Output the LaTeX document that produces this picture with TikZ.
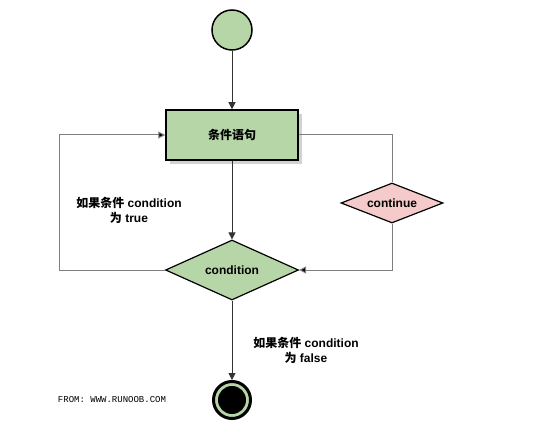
\documentclass[tikz,border=0pt]{standalone}
\usepackage{fontspec}
\setmainfont{Liberation Sans}
\setmonofont{Liberation Mono}
\newfontfamily\cjk{Noto Sans CJK SC}
\usepackage{tikz}
\usetikzlibrary{shapes.geometric,positioning,arrows.meta,shadows}
\definecolor{stepgreen}{HTML}{B7D6A8}
\definecolor{contpink}{HTML}{F5CACA}
\definecolor{loopgray}{HTML}{7F7F7F}

\begin{document}
\begin{tikzpicture}[x=1pt,y=-1pt,font=\bfseries\fontsize{12}{15}\selectfont,
startnode/.style={circle,draw=black,line width=1.5pt,fill=stepgreen,minimum size=40pt,inner sep=0pt},
stmtbox/.style={rectangle,draw=black,line width=1.5pt,fill=stepgreen,minimum width=132pt,minimum height=50pt,
  drop shadow={shadow xshift=4pt,shadow yshift=-4pt,fill=gray!50,opacity=0.7}},
condnode/.style={diamond,draw=black,line width=1.2pt,fill=stepgreen,aspect=2.2,minimum width=133pt,minimum height=60pt,inner sep=0pt},
contnode/.style={diamond,draw=black,line width=1.2pt,fill=contpink,aspect=2.5,minimum width=102pt,minimum height=40pt,inner sep=0pt},
endnode/.style={circle,draw=black,line width=3pt,fill=stepgreen,minimum size=37pt,inner sep=0pt},
flow/.style={draw=black!80,line width=1pt,-{Triangle[width=7pt,length=7pt]}},
loopline/.style={draw=loopgray,line width=1pt},
looparrow/.style={loopline,-{Triangle[width=7pt,length=7pt,fill=black]}},
note/.style={align=center,inner sep=0pt}]
\useasboundingbox (0,0) rectangle (542,444);

\node[startnode] (start) at (232,30) {};
\node[stmtbox] (stmt) at (232,135) {\cjk 条件语句};
\node[condnode] (cond) at (232,270) {condition};
\node[contnode] (cont) at (392,203) {continue};
\node[endnode] (stop) at (232,400) {};
\fill[black] (stop.center) circle (14pt);

\node[note] (ontrue) at (129,210) {{\cjk 如果条件} condition\\{\cjk 为} true};
\node[note] (onfalse) at (306,350) {{\cjk 如果条件} condition\\{\cjk 为} false};
\node[inner sep=0pt,font=\ttfamily\mdseries\fontsize{9}{10}\selectfont] (src) at (112,400) {FROM: WWW.RUNOOB.COM};

% main flow
\draw[flow] (start) -- (stmt);
\draw[flow] (stmt) -- (cond);
\draw[flow] (cond) -- (stop);

% loops
\draw[looparrow] (cond.west) -- ++(-105,0) |- (stmt.west);
\draw[loopline] (stmt.east) -| (cont.north);
\draw[looparrow] (cont.south) |- (cond.east);
\end{tikzpicture}
\end{document}
